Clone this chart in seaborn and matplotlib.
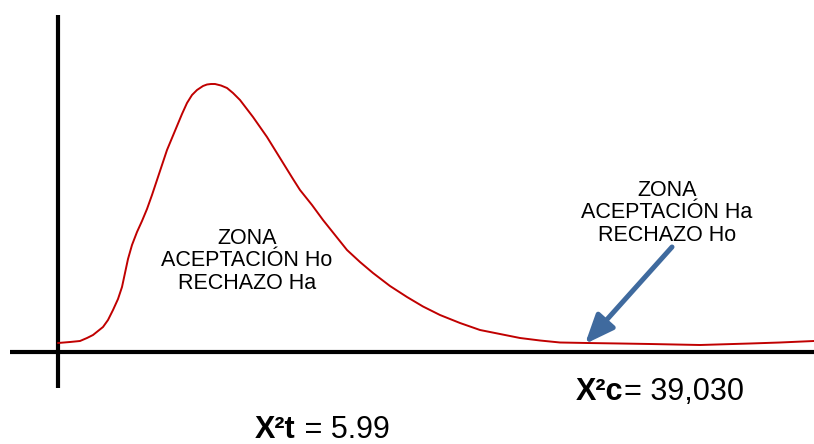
import pandas as pd
import matplotlib.pyplot as plt
import seaborn as sns

# curve (origin at the axes crossing, y up)
curve_x = [0, 12, 22, 29, 35, 40, 45, 50, 55, 60, 64, 67, 70, 74, 79, 84,
           89, 94, 99, 104, 109, 114, 119, 124, 129, 134, 139, 145, 149,
           153, 157, 163, 169, 175, 182, 195, 209, 222, 235, 242, 254, 265,
           277, 289, 302, 315, 332, 349, 365, 382, 402, 422, 442, 462, 482,
           502, 529, 562, 592, 642, 692, 722, 756]
curve_y = [9, 10, 11, 14, 17, 21, 25, 32, 42, 53, 65, 79, 93, 107, 120, 131,
           143, 157, 172, 187, 202, 214, 226, 238, 249, 257, 262, 266, 267.5,
           268, 268, 266.5, 264, 259, 252, 235, 215, 194, 173, 162, 147, 132,
           117, 102, 90, 79, 66, 55, 45.5, 37, 29, 22, 18, 14, 11.5, 9.5, 9,
           8.5, 8, 7, 8.5, 9.5, 11]

zona_ho = "ZONA\nACEPTACIÓN Ho\nRECHAZO Ha"
zona_ha = "ZONA\nACEPTACIÓN Ha\nRECHAZO Ho"
chi_t = ("X²t", " = 5.99")
chi_c = ("X²c", "= 39,030")

df = pd.DataFrame({"x": curve_x, "y": curve_y})

sns.set_style("white")
plt.rcParams["font.family"] = ["Liberation Sans", "DejaVu Sans"]
plt.rcParams["text.color"] = "black"

fig = plt.figure(figsize=(8.14, 4.44), dpi=100)
ax = fig.add_axes([0, 0, 1, 1])
ax.set_xlim(-58, 756)
ax.set_ylim(-92, 352)
ax.axis("off")

# axes lines
ax.plot([0, 0], [-36, 337], color="black", lw=3, solid_capstyle="butt")
ax.plot([-48, 756], [0, 0], color="black", lw=3, solid_capstyle="butt")

sns.lineplot(data=df, x="x", y="y", color="#C00000", lw=1.4, ax=ax,
             sort=False)
for line in ax.lines:
    line.set_solid_joinstyle("round")

ax.text(189, 91, zona_ho, ha="center", va="center", fontsize=15.5,
        linespacing=1.12)
ax.text(609, 139, zona_ha, ha="center", va="center", fontsize=15.5,
        linespacing=1.12)

ax.annotate("", xy=(527, 8), xytext=(614, 105),
            arrowprops=dict(arrowstyle="-|>,head_width=0.33,head_length=0.8",
                            lw=3.6, color="#3F6A9E", mutation_scale=22,
                            shrinkA=0, shrinkB=0))

ax.text(565, -40, chi_c[0], ha="right", va="center", fontsize=22,
        fontweight="bold")
ax.text(566, -40, chi_c[1], ha="left", va="center", fontsize=22)
ax.text(237, -78, chi_t[0], ha="right", va="center", fontsize=22,
        fontweight="bold")
ax.text(238, -78, chi_t[1], ha="left", va="center", fontsize=22)

fig.savefig("out.png", dpi=100)
